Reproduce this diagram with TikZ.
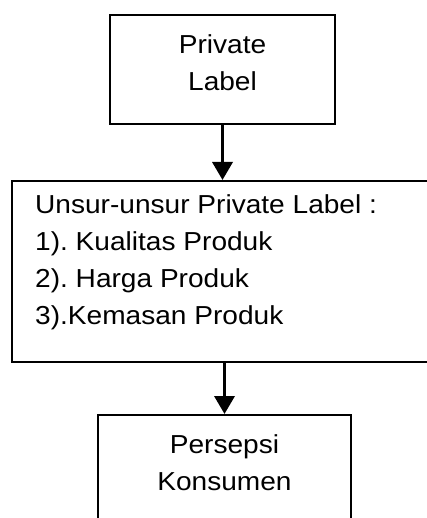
\documentclass[tikz,border=0pt]{standalone}
\usepackage{fontspec}
\setmainfont[FakeStretch=1.08]{Liberation Sans}
\usepackage{tikz}
\usetikzlibrary{arrows.meta}
\usetikzlibrary{positioning}
\frenchspacing
\tikzstyle{flow_box}=[draw=black, line width=2pt, inner sep=0pt]
\tikzstyle{flow_text}=[inner sep=0pt, font=\fontsize{26}{37}\selectfont]
\tikzstyle{flow_arrow}=[line width=3.5pt, -{Triangle[width=20pt,length=18pt]}]

\begin{document}
\begin{tikzpicture}[x=1pt, y=1pt]
          \useasboundingbox (0,0) rectangle (427,-518);
          \node[flow_box, minimum width=225pt, minimum height=109pt] (private) at (222.5,-69.5){};
          \node[flow_text, align=center, below=20pt of private.north] (privatetext) {Private\\Label};
          \node[flow_box, minimum width=433pt, minimum height=181pt] (unsur) at (228.5,-271.5){};
          \node[flow_text, align=left, below right=14pt and 24pt of unsur.north west] (unsurtext) {Unsur-unsur Private Label :\\1). Kualitas Produk\\2). Harga Produk\\3).Kemasan Produk};
          \node[flow_box, minimum width=253pt, minimum height=125pt] (persepsi) at (224.5,-477.5){};
          \node[flow_text, align=center, below=20pt of persepsi.north] (persepsitext) {Persepsi\\Konsumen};
          \draw[flow_arrow](private.south) -- (private.south |- unsur.north);
          \draw[flow_arrow](persepsi.north |- unsur.south) -- (persepsi.north);
        \end{tikzpicture}
\end{document}
